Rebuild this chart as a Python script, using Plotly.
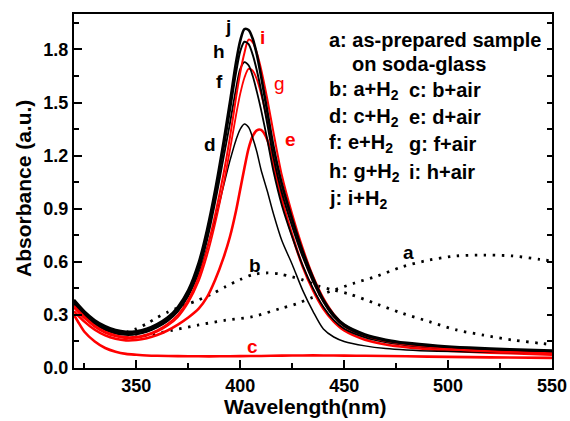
import plotly.graph_objects as go

# ---------------- data ----------------
WL = [320, 325, 330, 335, 340, 345, 350, 355, 360, 365, 370, 375, 380, 384, 388, 392, 395, 398,
      400, 402, 404, 406, 408, 410, 413, 416, 420, 425, 430, 435, 440, 445, 450, 460, 470, 480,
      495, 510, 530, 550]

j_vals = [0.385, 0.32, 0.27, 0.236, 0.214, 0.205, 0.208, 0.222, 0.248, 0.285, 0.345, 0.44, 0.595,
          0.78, 1.01, 1.28, 1.50, 1.73, 1.85, 1.915, 1.91, 1.86, 1.77, 1.65, 1.45, 1.25, 1.04, 0.84,
          0.66, 0.51, 0.385, 0.30, 0.245, 0.19, 0.16, 0.142, 0.126, 0.115, 0.105, 0.098]
h_vals = [0.375, 0.31, 0.26, 0.226, 0.205, 0.197, 0.20, 0.214, 0.24, 0.277, 0.335, 0.43, 0.575,
          0.75, 0.975, 1.24, 1.45, 1.67, 1.79, 1.843, 1.83, 1.77, 1.68, 1.57, 1.38, 1.19, 0.99, 0.80,
          0.63, 0.49, 0.375, 0.29, 0.237, 0.183, 0.154, 0.137, 0.121, 0.111, 0.102, 0.095]
f_vals = [0.365, 0.30, 0.252, 0.218, 0.198, 0.19, 0.193, 0.207, 0.232, 0.268, 0.325, 0.415, 0.555,
          0.72, 0.94, 1.19, 1.38, 1.58, 1.69, 1.728, 1.71, 1.65, 1.56, 1.46, 1.29, 1.11, 0.92, 0.74,
          0.58, 0.45, 0.345, 0.27, 0.222, 0.173, 0.146, 0.13, 0.115, 0.106, 0.098, 0.092]
d_vals = [0.36, 0.297, 0.248, 0.214, 0.194, 0.186, 0.189, 0.203, 0.228, 0.263, 0.318, 0.405, 0.535,
          0.68, 0.84, 1.03, 1.17, 1.29, 1.35, 1.378, 1.36, 1.30, 1.22, 1.12, 1.00, 0.87, 0.72, 0.585,
          0.44, 0.32, 0.22, 0.175, 0.15, 0.125, 0.11, 0.102, 0.095, 0.091, 0.088, 0.085]
i_vals = [0.35, 0.29, 0.24, 0.205, 0.185, 0.175, 0.177, 0.19, 0.213, 0.248, 0.30, 0.385, 0.515,
          0.67, 0.87, 1.10, 1.30, 1.53, 1.67, 1.78, 1.855, 1.84, 1.78, 1.69, 1.52, 1.33, 1.09, 0.87,
          0.68, 0.52, 0.395, 0.305, 0.245, 0.185, 0.152, 0.133, 0.115, 0.103, 0.092, 0.083]
g_vals = [0.34, 0.28, 0.232, 0.198, 0.178, 0.168, 0.17, 0.183, 0.205, 0.238, 0.288, 0.37, 0.49,
          0.635, 0.82, 1.04, 1.23, 1.43, 1.55, 1.64, 1.69, 1.68, 1.63, 1.55, 1.40, 1.23, 1.02, 0.82,
          0.64, 0.49, 0.375, 0.29, 0.235, 0.178, 0.147, 0.128, 0.11, 0.098, 0.088, 0.08]
e_vals = [0.32, 0.262, 0.216, 0.184, 0.165, 0.156, 0.158, 0.168, 0.186, 0.212, 0.245, 0.285, 0.335,
          0.40, 0.50, 0.625, 0.74, 0.89, 1.01, 1.13, 1.24, 1.31, 1.343, 1.345, 1.29, 1.15, 0.95, 0.75,
          0.575, 0.44, 0.335, 0.262, 0.212, 0.16, 0.133, 0.117, 0.102, 0.092, 0.083, 0.075]

C_WL = [320, 322, 325, 330, 335, 340, 345, 350, 355, 360, 370, 380, 390, 400, 410, 420, 430, 440,
        450, 460, 480, 500, 520, 550]
c_vals = [0.30, 0.26, 0.205, 0.15, 0.113, 0.092, 0.08, 0.075, 0.071, 0.069, 0.067, 0.066, 0.066,
          0.067, 0.068, 0.07, 0.071, 0.071, 0.07, 0.069, 0.066, 0.063, 0.06, 0.057]

A_WL = [345, 355, 367, 380, 393, 406, 419, 427, 435, 445, 455, 466, 478, 491, 504, 517, 531, 544, 550]
a_vals = [0.17, 0.185, 0.212, 0.243, 0.27, 0.29, 0.335, 0.362, 0.40, 0.44, 0.48, 0.52, 0.572, 0.61,
          0.633, 0.638, 0.633, 0.614, 0.604]

B_WL = [345, 350, 355, 360, 365, 370, 375, 380, 387, 393, 400, 406, 413, 419, 425, 430, 438, 445,
        453, 466, 478, 491, 504, 517, 531, 544, 550]
b_vals = [0.20, 0.222, 0.25, 0.285, 0.315, 0.34, 0.362, 0.385, 0.422, 0.46, 0.50, 0.528, 0.537,
          0.531, 0.515, 0.498, 0.462, 0.44, 0.416, 0.36, 0.309, 0.262, 0.215, 0.186, 0.158, 0.14,
          0.132]

X_TICKS = [350, 400, 450, 500, 550]
Y_TICKS = [0.0, 0.3, 0.6, 0.9, 1.2, 1.5, 1.8]

legend_lines = [
    ["a: as-prepared sample"],
    ["on soda-glass"],
    ["b: a+H<sub>2</sub>", "c: b+air"],
    ["d: c+H<sub>2</sub>", "e: d+air"],
    ["f: e+H<sub>2</sub>", "g: f+air"],
    ["h: g+H<sub>2</sub>", "i: h+air"],
    ["j: i+H<sub>2</sub>"],
]

# curve letter labels: (text, x[nm], y[a.u.], colour, bold)
curve_labels = [
    ("j", 394.0, 1.93, "black", True),
    ("h", 390.0, 1.79, "black", True),
    ("f", 390.0, 1.62, "black", True),
    ("d", 385.2, 1.26, "black", True),
    ("i", 410.9, 1.87, "red", True),
    ("g", 419.0, 1.61, "red", False),
    ("e", 424.3, 1.29, "red", True),
    ("b", 406.9, 0.58, "black", True),
    ("a", 480.8, 0.65, "black", True),
    ("c", 406.1, 0.12, "red", True),
]

FONT = "Liberation Sans, Arial, Helvetica, sans-serif"
RED = "#ff0000"

fig = go.Figure()

def add_line(x, y, color, width, dash="solid"):
    fig.add_trace(go.Scatter(x=x, y=y, mode="lines",
                             line=dict(color=color, width=width, dash=dash, shape="spline", smoothing=0.8),
                             showlegend=False, hoverinfo="skip"))

add_line(A_WL, a_vals, "black", 2.8, "2.5px,6.5px")
add_line(B_WL, b_vals, "black", 2.8, "2.5px,6.5px")
add_line(C_WL, c_vals, RED, 2.6)
add_line(WL, e_vals, RED, 2.6)
add_line(WL, d_vals, "black", 1.5)
add_line(WL, g_vals, RED, 1.8)
add_line(WL, f_vals, "black", 1.8)
add_line(WL, i_vals, RED, 2.0)
add_line(WL, h_vals, "black", 2.0)
add_line(WL, j_vals, "black", 2.6)

# dummy trace for the right-hand tick axis
fig.add_trace(go.Scatter(x=[None], y=[None], yaxis="y2", showlegend=False, hoverinfo="skip"))

anns = []
for txt, x, y, col, bold in curve_labels:
    anns.append(dict(x=x, y=y, xref="x", yref="y", text=txt, showarrow=False,
                     font=dict(family=FONT, size=19, color=col, weight="bold" if bold else "normal"),
                     xanchor="center", yanchor="middle"))

# legend text block (paper coords derived from plot-area pixels)
L, R, T, B = 74, 552, 14, 368
def px_to_paper(px, py):
    return (px - L) / (R - L), (B - py) / (B - T)

line_y = [40, 64, 90, 117, 144, 172, 199]
col_x = [327, 407]
for k, parts in enumerate(legend_lines):
    for c_i, part in enumerate(parts):
        xpx = 350 if k == 1 else col_x[c_i]
        xp, yp = px_to_paper(xpx, line_y[k])
        anns.append(dict(x=xp, y=yp, xref="paper", yref="paper", text=part, showarrow=False,
                         font=dict(family=FONT, size=20, color="black", weight="bold"),
                         xanchor="left", yanchor="middle"))

# axis titles
xp, yp = px_to_paper(305, 406)
anns.append(dict(x=xp, y=yp, xref="paper", yref="paper", text="Wavelength(nm)", showarrow=False,
                 font=dict(family=FONT, size=21, color="black", weight="bold"),
                 xanchor="center", yanchor="middle"))
xp, yp = px_to_paper(23, 189)
anns.append(dict(x=xp, y=yp, xref="paper", yref="paper", text="Absorbance (a.u.)", showarrow=False,
                 textangle=-90,
                 font=dict(family=FONT, size=21, color="black", weight="bold"),
                 xanchor="center", yanchor="middle"))

fig.update_layout(
    width=570, height=421,
    margin=dict(l=L, r=570 - R, t=T, b=421 - B),
    plot_bgcolor="white", paper_bgcolor="white",
    font=dict(family=FONT, color="black"),
    annotations=anns,
    xaxis=dict(range=[320, 550], tickvals=X_TICKS, ticks="inside", ticklen=8, tickwidth=2,
               tickcolor="black", showline=True, linewidth=2, linecolor="black", mirror=True,
               showgrid=False, zeroline=False, automargin=False,
               tickfont=dict(family=FONT, size=18, color="black", weight="bold"),
               minor=dict(dtick=25, tick0=325, ticks="inside", ticklen=5, tickwidth=2, tickcolor="black")),
    yaxis=dict(range=[0, 2.0], tickvals=Y_TICKS, ticktext=[f"{v:.1f}" for v in Y_TICKS],
               ticks="inside", ticklen=8, tickwidth=2, tickcolor="black",
               showline=True, linewidth=2, linecolor="black", mirror=True,
               showgrid=False, zeroline=False, automargin=False,
               tickfont=dict(family=FONT, size=18, color="black", weight="bold"),
               minor=dict(dtick=0.15, tick0=0, ticks="inside", ticklen=5, tickwidth=2, tickcolor="black")),
    yaxis2=dict(range=[0, 2.0], overlaying="y", side="right", dtick=0.15, tick0=0,
                ticks="inside", ticklen=5, tickwidth=2, tickcolor="black", automargin=False,
                showticklabels=False, showgrid=False, zeroline=False, showline=False),
)

fig.write_html("out.html",
               config={"displayModeBar": False, "staticPlot": True},
               post_script="document.body.style.margin='0';document.body.style.padding='0';"
                           "document.body.style.overflow='hidden';")
